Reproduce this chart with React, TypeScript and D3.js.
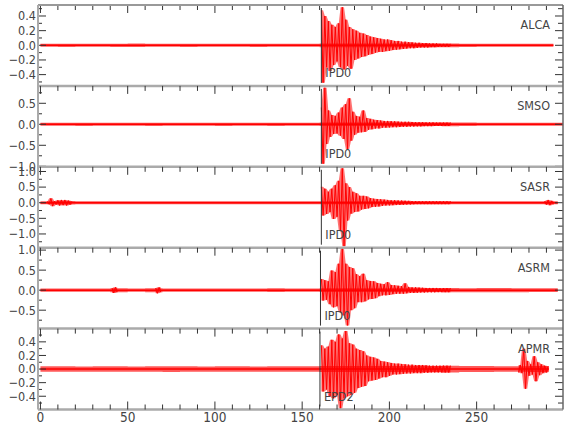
import * as d3 from 'd3';

// station traces, top to bottom
const stations = ['ALCA', 'SMSO', 'SASR', 'ASRM', 'APMR'];
const phases = ['IPD0', 'IPD0', 'IPD0', 'IPD0', 'EPD2'];
const pickTimes = [161.0, 161.0, 161.0, 160.5, 160.2];
const traceEnd = [294, 299.5, 296.5, 296.5, 291.5];

// amplitude ranges of each panel
const yMin = [-0.554, -1.012, -1.44, -0.96, -0.595];
const yMax = [0.55, 0.914, 1.15, 1.06, 0.595];
const majorStep = [0.2, 0.5, 0.5, 0.5, 0.2];
const minorStep = [0.1, 0.25, 0.25, 0.25, 0.1];

const xTicksMajor = [0, 50, 100, 150, 200, 250];

// background noise level, one value per 10 s bin (0..300 s)
const noiseALCA = [0.02, 0.022, 0.02, 0.02, 0.022, 0.024, 0.02, 0.02, 0.022, 0.02, 0.02, 0.02, 0.022, 0.02, 0.02, 0.02, 0.025, 0.025, 0.025, 0.025, 0.025, 0.025, 0.025, 0.025, 0.022, 0.02, 0.02, 0.02, 0.02, 0.02];
const noiseSMSO = [0.035, 0.035, 0.038, 0.035, 0.035, 0.035, 0.038, 0.035, 0.035, 0.035, 0.038, 0.035, 0.035, 0.038, 0.035, 0.035, 0.04, 0.04, 0.04, 0.04, 0.04, 0.04, 0.04, 0.045, 0.04, 0.035, 0.035, 0.035, 0.035, 0.035];
const noiseSASR = [0.05, 0.055, 0.05, 0.048, 0.05, 0.05, 0.048, 0.05, 0.05, 0.048, 0.05, 0.05, 0.05, 0.048, 0.05, 0.05, 0.05, 0.05, 0.05, 0.05, 0.05, 0.05, 0.05, 0.05, 0.05, 0.05, 0.05, 0.05, 0.05, 0.05];
const noiseASRM = [0.042, 0.042, 0.04, 0.042, 0.05, 0.042, 0.05, 0.042, 0.04, 0.042, 0.042, 0.04, 0.042, 0.045, 0.042, 0.042, 0.045, 0.045, 0.045, 0.045, 0.045, 0.045, 0.045, 0.055, 0.05, 0.055, 0.055, 0.05, 0.045, 0.045];
const noiseAPMR = [0.04, 0.04, 0.038, 0.04, 0.04, 0.038, 0.04, 0.042, 0.04, 0.038, 0.04, 0.04, 0.038, 0.04, 0.04, 0.04, 0.045, 0.045, 0.045, 0.045, 0.045, 0.045, 0.045, 0.05, 0.045, 0.045, 0.04, 0.04, 0.045, 0.04];

// signed peak amplitudes, one per second, starting at the P arrival
const codaStart = 161;
const codaALCA = [0.48, -0.51, 0.40, -0.30, 0.33, -0.35, 0.28, -0.27, 0.25, -0.22,
  0.30, -0.30, 0.52, -0.33, 0.35, -0.28, 0.25, -0.32, 0.22, -0.20,
  0.20, -0.18, 0.17, -0.16, 0.16, -0.15, 0.14, -0.13, 0.12, -0.12,
  0.11, -0.10, 0.10, -0.09, 0.09, -0.09, 0.08, -0.08, 0.08, -0.075,
  0.07, -0.065, 0.06, -0.06, 0.06, -0.055, 0.05, -0.05, 0.05, -0.045,
  0.045, -0.04, 0.04, -0.04, 0.035, -0.035, 0.035, -0.03, 0.03, -0.03,
  0.03, -0.03, 0.025, -0.025, 0.025, -0.025, 0.025, -0.02, 0.02, -0.02,
  0.02, -0.02, 0.02, -0.02, 0.02];
const codaSMSO = [0.40, -0.94, 0.87, -0.47, 0.33, -0.30, 0.22, -0.23, 0.20, -0.22,
  0.28, -0.27, 0.40, -0.35, 0.48, -0.59, 0.62, -0.39, 0.30, -0.25,
  0.20, -0.20, 0.18, -0.19, 0.33, -0.18, 0.15, -0.13, 0.13, -0.12,
  0.11, -0.10, 0.10, -0.10, 0.09, -0.08, 0.08, -0.08, 0.08, -0.075,
  0.075, -0.07, 0.07, -0.07, 0.065, -0.065, 0.06, -0.06, 0.06, -0.06,
  0.06, -0.055, 0.055, -0.055, 0.05, -0.05, 0.05, -0.05, 0.05, -0.045,
  0.045, -0.045, 0.045, -0.045, 0.045, -0.04, 0.04, -0.04, 0.04, -0.04,
  0.04, -0.04, 0.04, -0.04, 0.04];
const codaSASR = [0.51, -0.41, 0.45, -0.36, 0.35, -0.30, 0.45, -0.52, 0.56, -0.45,
  0.70, -0.90, 1.10, -1.39, 0.62, -0.57, 0.50, -0.35, 0.35, -0.30,
  0.30, -0.28, 0.22, -0.22, 0.22, -0.20, 0.20, -0.18, 0.15, -0.14,
  0.13, -0.13, 0.12, -0.12, 0.11, -0.10, 0.10, -0.09, 0.09, -0.085,
  0.08, -0.08, 0.08, -0.075, 0.075, -0.07, 0.07, -0.065, 0.065, -0.06,
  0.06, -0.055, 0.05, -0.05, 0.05, -0.045, 0.045, -0.045, 0.045, -0.045,
  0.045, -0.045, 0.045, -0.045, 0.045, -0.045, 0.045, -0.045, 0.045, -0.045,
  0.045, -0.045, 0.045, -0.045, 0.045];
const codaASRM = [0.28, -0.26, 0.25, -0.24, 0.22, -0.35, 0.49, -0.43, 0.45, -0.40,
  0.66, -0.55, 1.03, -0.63, 0.66, -0.88, 0.58, -0.50, 0.55, -0.45,
  0.40, -0.30, 0.35, -0.30, 0.41, -0.28, 0.25, -0.23, 0.23, -0.22,
  0.22, -0.20, 0.18, -0.15, 0.16, -0.13, 0.15, -0.13, 0.20, -0.12,
  0.13, -0.10, 0.12, -0.09, 0.11, -0.09, 0.10, -0.09, 0.17, -0.08,
  0.08, -0.07, 0.07, -0.07, 0.07, -0.065, 0.065, -0.06, 0.06, -0.06,
  0.055, -0.055, 0.055, -0.055, 0.055, -0.055, 0.055, -0.05, 0.05, -0.05,
  0.05, -0.05, 0.05, -0.05, 0.05];
const codaAPMR = [0.35, -0.33, 0.30, -0.30, 0.33, -0.40, 0.43, -0.43, 0.40, -0.38,
  0.51, -0.58, 0.45, -0.43, 0.56, -0.40, 0.38, -0.38, 0.36, -0.35,
  0.30, -0.28, 0.28, -0.26, 0.26, -0.25, 0.20, -0.18, 0.18, -0.17,
  0.17, -0.16, 0.15, -0.14, 0.12, -0.12, 0.11, -0.12, 0.10, -0.10,
  0.09, -0.08, 0.08, -0.08, 0.08, -0.075, 0.075, -0.07, 0.07, -0.065,
  0.065, -0.065, 0.065, -0.06, 0.06, -0.06, 0.06, -0.06, 0.06, -0.055,
  0.055, -0.055, 0.05, -0.05, 0.05, -0.05, 0.05, -0.05, 0.05, -0.05,
  0.05, -0.05, 0.05, -0.05, 0.05];

// smaller bursts seen off the main arrival
const sasrEarly = [0.04, -0.05, 0.14, -0.11, 0.05, -0.06, 0.08, -0.09, 0.09, -0.08, 0.09, -0.09, 0.07, -0.06, 0.04];
const sasrLate = [0.05, -0.06, 0.09, -0.08, 0.06, -0.05];
const asrmBlipA = [0.05, -0.07, 0.07, -0.05];
const asrmBlipB = [0.05, -0.08, 0.07, -0.05];
const apmrLocal = [-0.05, 0.06, -0.06, 0.30, -0.29, 0.12, -0.10, 0.07, -0.08, 0.19, -0.18, 0.10, -0.09, 0.07, -0.06, 0.05, -0.05, 0.04];

const noise = [noiseALCA, noiseSMSO, noiseSASR, noiseASRM, noiseAPMR];
const bursts = [
  [{ start: codaStart, values: codaALCA }],
  [{ start: codaStart, values: codaSMSO }],
  [{ start: 4, values: sasrEarly }, { start: codaStart, values: codaSASR }, { start: 289, values: sasrLate }],
  [{ start: 41, values: asrmBlipA }, { start: 66, values: asrmBlipB }, { start: codaStart, values: codaASRM }],
  [{ start: codaStart, values: codaAPMR }, { start: 274, values: apmrLocal }],
];

const W = 580;
const H = 440;
const left = 38;
const right = 563;
const top = 5;
const bottom = 409.5;
const panelH = (bottom - top) / stations.length;

const RED = '#ff0000';
const FONT = '"Liberation Sans Narrow", "DejaVu Sans Condensed", "Liberation Sans", sans-serif';
const INK = '#444';

const x = d3.scaleLinear().domain([-1.4, 299.5]).range([left, right]);
const fmt = d3.format('.1f');

// upper / lower envelope of a signed peak series (neighbour max / min)
const envelope = (vals: number[]) => vals.map((_, k) => {
  const near = vals.slice(Math.max(0, k - 1), k + 2);
  return { hi: Math.max(0, d3.max(near) ?? 0), lo: Math.min(0, d3.min(near) ?? 0) };
});

const Panel = ({ i }: { i: number }) => {
  const y0 = top + i * panelH;
  const y1 = y0 + panelH;
  const y = d3.scaleLinear().domain([yMin[i], yMax[i]]).range([y1, y0]);
  const end = traceEnd[i];

  // noise band, stepped per 10 s bin
  const bins = noise[i].map((v, k) => ({ t: k * 10, v }));
  bins.push({ t: end, v: noise[i][noise[i].length - 1] });
  const band = d3.area<{ t: number; v: number }>()
    .x(d => x(Math.min(d.t, end)))
    .y0(d => y(-d.v))
    .y1(d => y(d.v))
    .curve(d3.curveStepAfter);

  const wiggle = (start: number) => d3.line<number>()
    .x((_, k) => x(start + k))
    .y(d => y(d));
  const shade = (start: number) => d3.area<{ hi: number; lo: number }>()
    .x((_, k) => x(start + k))
    .y0(d => y(d.lo))
    .y1(d => y(d.hi));

  const majors = d3.range(Math.ceil(yMin[i] / majorStep[i]) * majorStep[i], yMax[i] + 1e-6, majorStep[i])
    .map(v => Math.round(v * 100) / 100);
  const minors = d3.range(Math.ceil(yMin[i] / minorStep[i]) * minorStep[i], yMax[i] + 1e-6, minorStep[i])
    .map(v => Math.round(v * 100) / 100)
    .filter(v => !majors.some(m => Math.abs(m - v) < 1e-6));
  const xMinor = d3.range(0, 300, 10).filter(t => t % 50 !== 0);

  return (
    <g>
      <clipPath id={`clip${i}`}>
        <rect x={left} y={y0} width={right - left} height={panelH} />
      </clipPath>
      <g clipPath={`url(#clip${i})`}>
        <path d={band(bins) ?? ''} fill={RED} fillOpacity={0.65} />
        <line x1={x(0)} x2={x(end)} y1={y(0)} y2={y(0)} stroke={RED} strokeWidth={1.5} />
        {bursts[i].map((b, k) => (
          <g key={k}>
            <path d={shade(b.start)(envelope(b.values)) ?? ''} fill={RED} fillOpacity={0.55} />
            <path d={wiggle(b.start)(b.values) ?? ''} fill="none" stroke={RED} strokeWidth={1} strokeLinejoin="round" />
          </g>
        ))}
        <line x1={x(pickTimes[i])} x2={x(pickTimes[i])} y1={y0 + 3} y2={y1 - 3} stroke="#333" strokeWidth={1} />
      </g>

      {/* y ticks on both sides */}
      {majors.map(v => (
        <g key={`M${v}`}>
          <line x1={left} x2={left + 8} y1={y(v)} y2={y(v)} stroke="#333" />
          <line x1={right - 8} x2={right} y1={y(v)} y2={y(v)} stroke="#333" />
          <text x={36} y={y(v)} dy="0.35em" textAnchor="end" fontSize={12.5} fill={INK} fontFamily={FONT}>
            {fmt(v)}
          </text>
        </g>
      ))}
      {minors.map(v => (
        <g key={`m${v}`}>
          <line x1={left} x2={left + 4} y1={y(v)} y2={y(v)} stroke="#333" />
          <line x1={right - 5} x2={right} y1={y(v)} y2={y(v)} stroke="#333" />
        </g>
      ))}

      {/* time ticks hanging from the top edge */}
      {xTicksMajor.map(t => (
        <line key={`tx${t}`} x1={x(t)} x2={x(t)} y1={y0} y2={y0 + 8} stroke="#333" />
      ))}
      {xMinor.map(t => (
        <line key={`tn${t}`} x1={x(t)} x2={x(t)} y1={y0} y2={y0 + 5} stroke="#333" />
      ))}

      <text x={550} y={y0 + 20} dy="0.35em" textAnchor="end" fontSize={12.5} fill={INK} fontFamily={FONT}>
        {stations[i]}
      </text>
      <text x={x(pickTimes[i]) + 4} y={y1 - 13} dy="0.35em" fontSize={12.5} fill={INK} fontFamily={FONT}>
        {phases[i]}
      </text>

      <line x1={left} x2={right} y1={y1} y2={y1} stroke="#aaa" strokeWidth={2.5} />
    </g>
  );
};

export default function App() {
  const xMinor = d3.range(0, 300, 10).filter(t => t % 50 !== 0);
  return (
    <svg width={W} height={H} style={{ position: 'absolute', left: 0, top: 0, background: 'white' }}>
      {stations.map((_, i) => <Panel key={i} i={i} />)}

      {/* bottom time axis */}
      {xTicksMajor.map(t => (
        <g key={t}>
          <line x1={x(t)} x2={x(t)} y1={bottom - 8} y2={bottom} stroke="#333" />
          <text x={x(t)} y={bottom + 8} dy="0.35em" textAnchor="middle" fontSize={13.5} fill={INK} fontFamily={FONT}>
            {t}
          </text>
        </g>
      ))}
      {xMinor.map(t => (
        <line key={t} x1={x(t)} x2={x(t)} y1={bottom - 5} y2={bottom} stroke="#333" />
      ))}

      {/* frame */}
      <line x1={left} x2={right} y1={top} y2={top} stroke="#999" strokeWidth={2} />
      <line x1={left} x2={left} y1={top} y2={bottom} stroke="#aaa" strokeWidth={2} />
      <line x1={right} x2={right} y1={top} y2={bottom} stroke="#666" strokeWidth={1.5} />
    </svg>
  );
}
